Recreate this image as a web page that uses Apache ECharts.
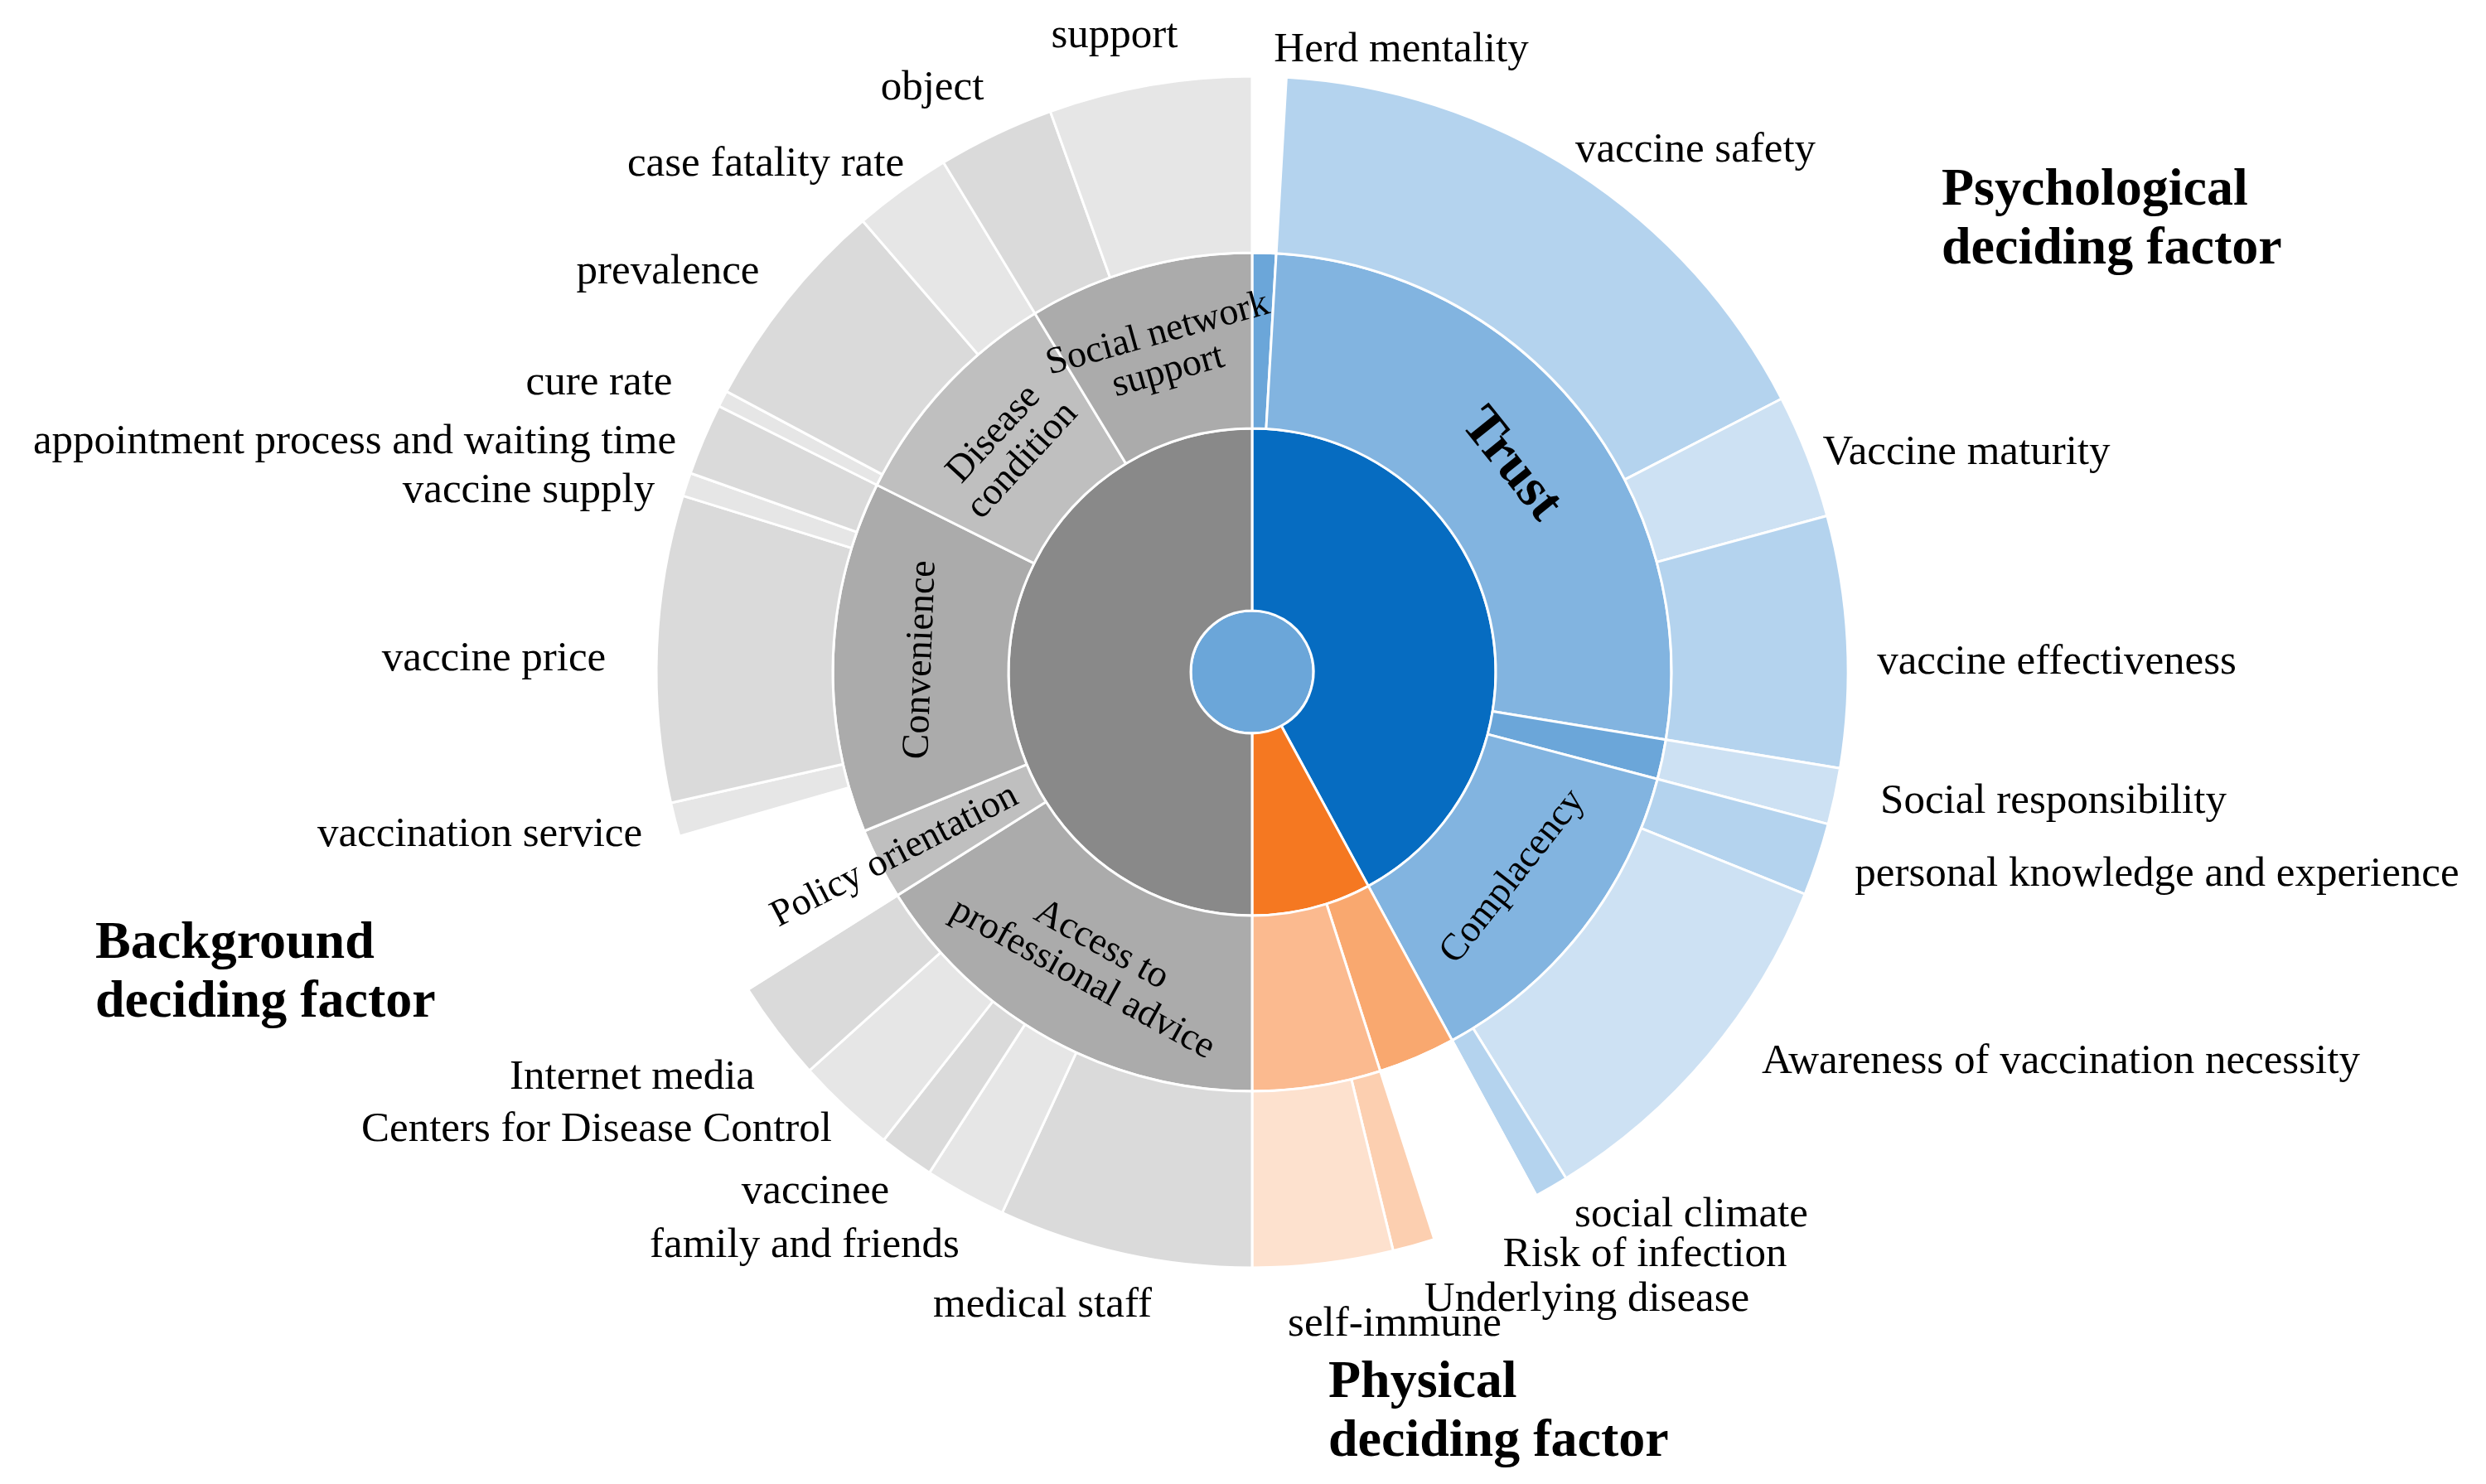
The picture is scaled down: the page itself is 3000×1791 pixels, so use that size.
<!DOCTYPE html>
<html>
<head>
<meta charset="utf-8">
<script src="https://cdn.jsdelivr.net/npm/echarts@6/dist/echarts.min.js"></script>
<style>
html,body{margin:0;padding:0;background:#ffffff;}
#chart{width:3000px;height:1791px;}
</style>
</head>
<body>
<div id="chart"></div>
<script>
// ---------------- DATA ----------------
const groupNames = ['Psychological deciding factor', 'Physical deciding factor', 'Background deciding factor'];

const factorNames = ['Herd mentality', 'Trust', 'Social responsibility', 'Complacency',
  'Risk of infection', 'Physical state',
  'Access to professional advice', 'Policy orientation', 'Convenience', 'Disease condition', 'Social network support'];
const factorGroup = [0, 0, 0, 0, 1, 1, 2, 2, 2, 2, 2];

const leafNames = ['Herd mentality', 'vaccine safety', 'Vaccine maturity', 'vaccine effectiveness',
  'Social responsibility', 'personal knowledge and experience', 'Awareness of vaccination necessity', 'social climate',
  'Risk of infection', 'Underlying disease', 'self-immune',
  'medical staff', 'family and friends', 'vaccinee', 'Centers for Disease Control', 'Internet media',
  'Policy orientation', 'other convenience',
  'vaccination service', 'vaccine price', 'vaccine supply', 'appointment process and waiting time',
  'cure rate', 'prevalence', 'case fatality rate', 'object', 'support'];
const leafFactor = [0, 1, 1, 1, 2, 3, 3, 3, 4, 5, 5, 6, 6, 6, 6, 6, 7, 8, 8, 8, 8, 8, 9, 9, 9, 10, 10];
const leafValues = [3.3, 59.4, 12.1, 24.5, 5.5, 7.1, 36.3, 3.3, 10.7, 4.1, 13.7,
  24.8, 8.0, 5.4, 9.8, 9.8, 9.9, 6.3, 3.3, 29.9, 2.3, 7.0, 1.6, 21.1, 9.6, 11.4, 19.8];

// leaves that get an outside text label
const labelledLeaves = leafNames.filter(n => n !== 'Policy orientation' && n !== 'other convenience');

// ---------------- STYLES ----------------
const centerColor = '#6BA6D9';
const groupColors = ['#066CC1', '#F57821', '#898989'];
const factorColors = ['#6BA6D9', '#82B4E0', '#6BA6D9', '#82B4E0',
  '#F9A86F', '#FBBA8F',
  '#ABABAB', '#BFBFBF', '#ABABAB', '#BFBFBF', '#ABABAB'];
const leafColors = ['#FFFFFF', '#B4D3EE', '#CDE1F3', '#B4D3EE', '#CDE1F3', '#B4D3EE', '#CDE1F3', '#B4D3EE',
  '#FFFFFF', '#FCCFB0', '#FDE1CE',
  '#DADADA', '#E6E6E6', '#DADADA', '#E6E6E6', '#DADADA',
  '#FFFFFF', '#FFFFFF',
  '#E6E6E6', '#DADADA', '#E6E6E6', '#DADADA',
  '#E6E6E6', '#DADADA', '#E6E6E6', '#DADADA', '#E6E6E6'];

const FONT = '"Liberation Serif", "Times New Roman", serif';
const innerLabelBase = {show: true, color: '#000', fontFamily: FONT, fontSize: 46, lineHeight: 47};
const factorLabelStyle = {
  'Trust': {rotate: 'tangential', fontSize: 66, fontWeight: 'bold'},
  'Complacency': {rotate: 'tangential'},
  'Access to professional advice': {rotate: 'tangential', formatter: 'Access to\nprofessional advice'},
  'Policy orientation': {rotate: 'radial', align: 'left', distance: 27},
  'Convenience': {rotate: 'tangential'},
  'Disease condition': {rotate: 'tangential', formatter: 'Disease\ncondition'},
  'Social network support': {rotate: 'tangential', formatter: 'Social network\nsupport'}
};

// outside label anchor points (text centre)
const leafLabelPos = {
  'support': [1345, 44], 'object': [1125, 107], 'case fatality rate': [924, 199], 'prevalence': [806, 329],
  'cure rate': [723, 463], 'appointment process and waiting time': [428, 534], 'vaccine supply': [638, 593],
  'vaccine price': [596, 796], 'vaccination service': [579, 1008], 'Internet media': [763, 1301],
  'Centers for Disease Control': [720, 1364], 'vaccinee': [984, 1439], 'family and friends': [971, 1504],
  'medical staff': [1258, 1576], 'self-immune': [1683, 1599], 'Underlying disease': [1915, 1569],
  'Risk of infection': [1985, 1515], 'social climate': [2041, 1467],
  'Awareness of vaccination necessity': [2487, 1282], 'personal knowledge and experience': [2603, 1056],
  'Social responsibility': [2478, 968], 'vaccine effectiveness': [2482, 800], 'Vaccine maturity': [2373, 547],
  'vaccine safety': [2046, 182], 'Herd mentality': [1691, 61]
};
const groupTitlePos = [[2343, 266], [1603, 1705], [115, 1175]];

// ---------------- BUILD TREE ----------------
const groupNodes = groupNames.map((g, gi) => ({
  name: g,
  itemStyle: {color: groupColors[gi]},
  label: {show: false},
  children: factorNames.map((f, fi) => ({f, fi}))
    .filter(o => factorGroup[o.fi] === gi)
    .map(({f, fi}) => ({
      name: f,
      itemStyle: {color: factorColors[fi]},
      label: factorLabelStyle[f] ? Object.assign({}, innerLabelBase, factorLabelStyle[f]) : {show: false},
      children: leafNames.map((l, li) => ({l, li}))
        .filter(o => leafFactor[o.li] === fi)
        .map(({l, li}) => ({
          name: l,
          value: leafValues[li],
          itemStyle: {color: leafColors[li]},
          label: {show: false}
        }))
    }))
}));
const treeData = [{name: '', itemStyle: {color: centerColor}, label: {show: false}, children: groupNodes}];

const graphics = [];
labelledLeaves.forEach(n => {
  const p = leafLabelPos[n];
  if (!p) return;
  graphics.push({
    type: 'text', x: p[0], y: p[1], silent: true,
    style: {text: n, fill: '#000', font: '51px ' + FONT,
      textAlign: 'center', textVerticalAlign: 'middle', align: 'center', verticalAlign: 'middle'}
  });
});
groupNames.forEach((g, gi) => {
  const p = groupTitlePos[gi];
  graphics.push({
    type: 'text', x: p[0], y: p[1], silent: true,
    style: {text: g.replace(' deciding', '\ndeciding'), fill: '#000', font: 'bold 64px ' + FONT,
      lineHeight: 71, textAlign: 'left', textVerticalAlign: 'middle', align: 'left', verticalAlign: 'middle'}
  });
});

const chart = echarts.init(document.getElementById('chart'), null, {renderer: 'canvas'});
chart.setOption({
  animation: false,
  backgroundColor: '#ffffff',
  series: [{
    type: 'sunburst',
    center: [1511, 811],
    radius: [0, 719],
    startAngle: 90,
    clockwise: true,
    sort: null,
    nodeClick: false,
    emphasis: {focus: 'none'},
    itemStyle: {borderColor: '#ffffff', borderWidth: 3},
    label: {show: false},
    levels: [
      {},
      {r0: 0, r: 74},
      {r0: 74, r: 294},
      {r0: 294, r: 506},
      {r0: 506, r: 719}
    ],
    data: treeData
  }],
  graphic: graphics
});
</script>
</body>
</html>
